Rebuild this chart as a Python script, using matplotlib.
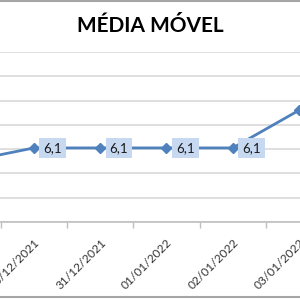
import matplotlib
matplotlib.use('Agg')
import matplotlib.pyplot as plt
from matplotlib.lines import Line2D
import numpy as np

# data (only the right part of the chart is visible)
dates = ['29/12/2021', '30/12/2021', '31/12/2021', '01/01/2022', '02/01/2022', '03/01/2022']
media = [5.0, 6.1, 6.1, 6.1, 6.1, 9.2]

plt.rcParams['font.family'] = ['Lato', 'DejaVu Sans']

fig = plt.figure(figsize=(3, 3), dpi=100)
ax = fig.add_axes([0, 0.26, 1, 0.5667])

x = np.arange(len(dates))
ax.plot(x, media, color='#4f81bd', linewidth=2, marker='D', markersize=5,
        markeredgecolor='#4f81bd', markerfacecolor='#4f81bd', zorder=3)

# data labels in small blue boxes to the right of each point
for xi, v in zip(x, media):
    ax.annotate(f'{v:.1f}'.replace('.', ','), (xi, v), xytext=(13.5, 0),
                textcoords='offset points', ha='center', va='center',
                fontsize=9.5, color='#1a1a1a', zorder=4,
                bbox=dict(boxstyle='square,pad=0.3', fc='#c6d9f1', ec='none'))

ax.set_yticks(np.arange(0, 15, 2))
ax.yaxis.grid(True, color='#d9d9d9', linewidth=1.2)
ax.set_axisbelow(True)
ax.tick_params(axis='y', left=False, labelleft=False)

# tick marks between categories, labels at categories
ax.set_xticks(x + 0.5)
ax.set_xticklabels([])
ax.set_xticks(x, minor=True)
ax.set_xticklabels(dates, minor=True, rotation=45, ha='right', va='top',
                   rotation_mode='anchor', fontsize=8.6, color='#333333')
ax.tick_params(axis='x', which='major', length=4, color='#bfbfbf', width=1)
ax.tick_params(axis='x', which='minor', length=0, pad=11)

# only the right part of the original chart is in view
ax.set_xlim(0.487, 5.015)
ax.set_ylim(0, 14)

for s in ['left', 'right', 'top']:
    ax.spines[s].set_visible(False)
ax.spines['bottom'].set_color('#bfbfbf')
ax.spines['bottom'].set_linewidth(1.2)

fig.text(0.5, 1 - 32 / 300, 'MÉDIA MÓVEL', ha='center', va='baseline',
         fontsize=15, fontweight='bold', color='black')

# chart area border (top and bottom edges visible)
fig.add_artist(Line2D([0, 1], [0.996, 0.996], color='#a6a6a6', linewidth=1.5))
fig.add_artist(Line2D([0, 1], [0.01, 0.01], color='#a6a6a6', linewidth=1.5))

fig.savefig('out.png', dpi=100)
